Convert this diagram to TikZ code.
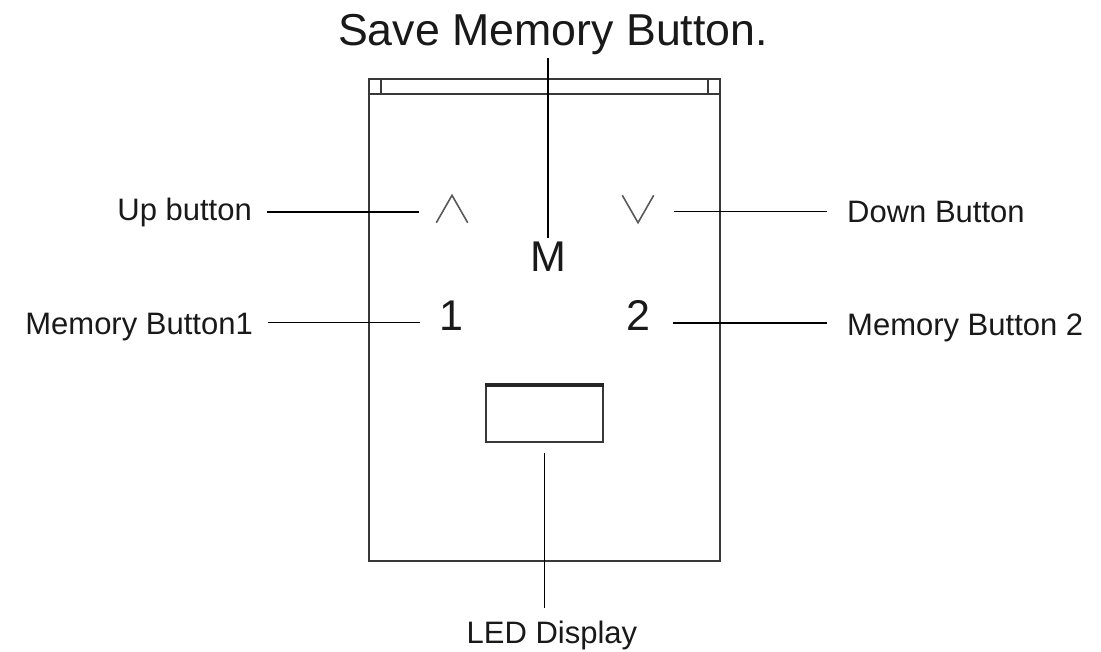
\documentclass[tikz,border=0pt]{standalone}
\usepackage{fontspec}
\setmainfont{Liberation Sans}
\usetikzlibrary{positioning}

\begin{document}
\begin{tikzpicture}[
    x=1pt, y=-1pt,
    every node/.style={inner sep=0pt, font=\fontsize{31}{36}\selectfont, text=black!90},
    key/.style={font=\fontsize{43}{48}\selectfont},
    chev/.style={minimum width=31pt, minimum height=27pt},
    body/.style={draw=black!78, line width=2pt},
    lead/.style={line width=1.8pt, black},
  ]
  \useasboundingbox (0,0) rectangle (1101,651);

  % panel
  \node[body, minimum width=351pt, minimum height=482pt] (panel) at (544.5,320) {};
  \draw[body] (369,94) -- (720,94);
  \foreach \x in {381,708}
    \draw[body] (\x,79) -- (\x,94);
  \node[body, minimum width=117pt, minimum height=56pt] (led) at (544.5,414) {};
  \draw[line width=4pt, black!85] (led.north west) -- (led.north east);

  % keys
  \node[chev] (up) at (452,209) {};
  \draw[line width=1.6pt, black!65] (up.south west) -- (up.north) -- (up.south east);
  \node[chev] (down) at (638,209) {};
  \draw[line width=1.6pt, black!65] (down.north west) -- (down.south) -- (down.north east);
  \node[key, anchor=base] (save) at (548,271) {M};
  \node[key, anchor=base] (mem1) at (451,330) {1};
  \node[key, anchor=base] (mem2) at (638,330) {2};

  % labels
  \node[anchor=base, font=\fontsize{44.7}{50}\selectfont] (savelbl) at (553,45) {Save Memory Button.};
  \node[anchor=base east] (uplbl) at (252,220) {Up button};
  \node[anchor=base east] (mem1lbl) at (253,334) {Memory Button1};
  \node[anchor=base west] (downlbl) at (847,222) {Down Button};
  \node[anchor=base west] (mem2lbl) at (847,335) {Memory Button 2};
  \node[anchor=base] (ledlbl) at (552,643) {LED Display};

  % leads
  \draw[lead, shorten <=15pt, shorten >=17pt] (uplbl.east) -- (uplbl.east -| up.west);
  \draw[lead, shorten <=20pt, shorten >=20pt] (down.east |- downlbl.west) -- (downlbl.west);
  \draw[lead, shorten <=15pt, shorten >=19pt] ([yshift=4pt]mem1lbl.east) -- ([yshift=4pt]mem1lbl.east -| mem1.west);
  \draw[lead, shorten <=23pt, shorten >=20pt] ([yshift=4pt]mem2lbl.west -| mem2.east) -- ([yshift=4pt]mem2lbl.west);
  \draw[lead, shorten <=4pt, shorten >=3pt] (savelbl.south -| save.north) -- (save.north);
  \draw[lead, shorten <=10pt, shorten >=12pt] (led.south) -- (led.south |- ledlbl.north);
\end{tikzpicture}
\end{document}
